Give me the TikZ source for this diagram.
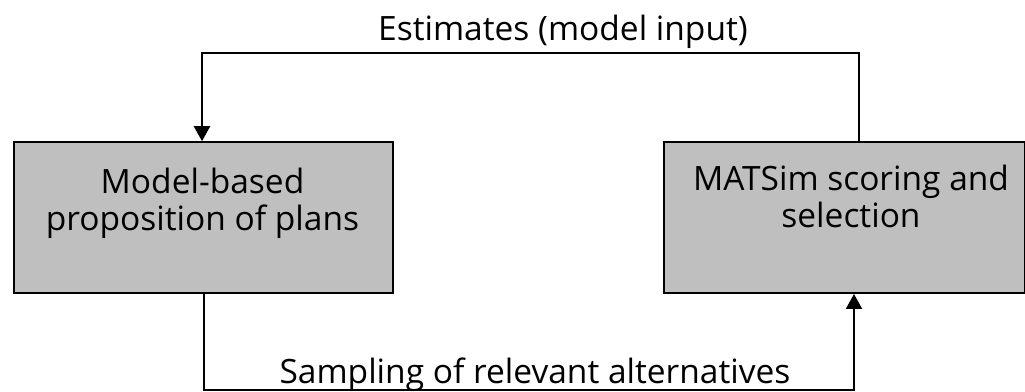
\documentclass[tikz,border=0pt]{standalone}
\usepackage{fontspec}
\setmainfont{Open Sans}
\usetikzlibrary{arrows.meta,calc}
\begin{document}
\begin{tikzpicture}[x=1pt,y=1pt,
  box/.style={draw=black,line width=1.8pt,fill=boxgray,inner sep=0pt,anchor=south west},
  lbl/.style={font=\fontsize{33.5}{37}\selectfont,align=center,inner sep=0pt,anchor=base},
  conn/.style={line width=2.1pt,draw=black},
  arr/.style={conn,-{Triangle[width=16pt,length=15pt]}}]
\definecolor{boxgray}{RGB}{191,191,191}
\useasboundingbox (0,0) rectangle (1025,391);
% boxes
\node[box,minimum width=379pt,minimum height=151pt] (left) at (13,97) {};
\node[box,minimum width=361pt,minimum height=151pt] (right) at (663,97) {};
% box texts
\node[lbl] (lefttxt) at (202.5,160) {Model-based\\proposition of plans};
\node[lbl] (righttxt) at (851,163) {MATSim scoring and\\selection};
% labels
\node[lbl] (toplbl) at (563,350) {Estimates (model input)};
\node[lbl] (botlbl) at (535,8) {Sampling of relevant alternatives};
% connector points
\coordinate (topR) at (859,338);
\coordinate (topL) at (202,338);
\coordinate (botL) at (204,0.6);
\coordinate (botR) at (854,0.6);
\draw[arr] (right.north -| topR) -- (topR) -- (topL) -- (left.north -| topL);
\draw[arr] (left.south -| botL) -- (botL) -- (botR) -- (right.south -| botR);
\end{tikzpicture}
\end{document}
